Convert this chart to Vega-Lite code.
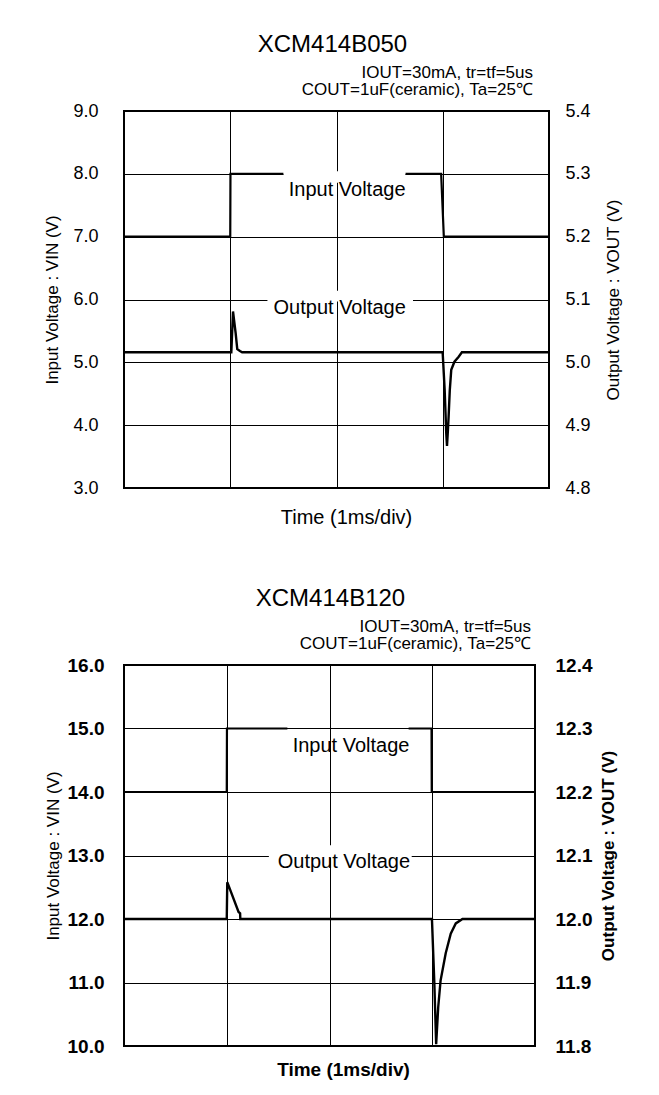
{
  "$schema": "https://vega.github.io/schema/vega-lite/v6.json",
  "padding": {"left": 42, "top": 33, "right": 0, "bottom": 0},
  "background": "white",
  "config": {
    "font": "Liberation Sans",
    "view": {"stroke": "black", "strokeWidth": 2},
    "axis": {"labelColor": "black", "titleColor": "black", "ticks": false, "domain": false, "gridColor": "black", "gridOpacity": 1, "gridWidth": 1, "titleFontWeight": "normal"},
    "title": {"color": "black", "subtitleColor": "black"}
  },
  "datasets": {
    "p1in": [
      {"t": 0, "v": 7, "s": "a"}, {"t": 1.0, "v": 7, "s": "a"}, {"t": 1.002, "v": 8, "s": "a"}, {"t": 1.5, "v": 8, "s": "a"},
      {"t": 2.65, "v": 8, "s": "b"}, {"t": 2.985, "v": 8, "s": "b"}, {"t": 3.01, "v": 7, "s": "b"}, {"t": 4, "v": 7, "s": "b"}
    ],
    "p1out": [
      {"t": 0, "v": 5.016}, {"t": 1.01, "v": 5.016}, {"t": 1.026, "v": 5.081}, {"t": 1.051, "v": 5.046}, {"t": 1.066, "v": 5.021},
      {"t": 1.091, "v": 5.018}, {"t": 1.112, "v": 5.016}, {"t": 2.999, "v": 5.016}, {"t": 3.018, "v": 4.956}, {"t": 3.033, "v": 4.887},
      {"t": 3.04, "v": 4.867}, {"t": 3.048, "v": 4.89}, {"t": 3.055, "v": 4.913}, {"t": 3.066, "v": 4.955}, {"t": 3.08, "v": 4.988},
      {"t": 3.11, "v": 5.001}, {"t": 3.15, "v": 5.009}, {"t": 3.18, "v": 5.016}, {"t": 4, "v": 5.016}
    ],
    "p1lab": [
      {"t": 2.1, "v": 7.74, "label": "Input Voltage"},
      {"t": 2.03, "v": 5.865, "label": "Output Voltage"}
    ],
    "p1box": [
      {"t": 1.5, "t2": 2.65, "v": 7.86, "v2": 8.04},
      {"t": 1.35, "t2": 2.72, "v": 5.97, "v2": 6.14}
    ],
    "p2in": [
      {"t": 0, "v": 14, "s": "a"}, {"t": 1.0, "v": 14, "s": "a"}, {"t": 1.002, "v": 15, "s": "a"}, {"t": 1.59, "v": 15, "s": "a"},
      {"t": 2.77, "v": 15, "s": "b"}, {"t": 2.993, "v": 15, "s": "b"}, {"t": 2.995, "v": 14, "s": "b"}, {"t": 4, "v": 14, "s": "b"}
    ],
    "p2out": [
      {"t": 0, "v": 12.0}, {"t": 1.0, "v": 12.0}, {"t": 1.005, "v": 12.058}, {"t": 1.115, "v": 12.011}, {"t": 1.13, "v": 12.009},
      {"t": 1.132, "v": 12.0}, {"t": 2.997, "v": 12.0}, {"t": 3.02, "v": 11.9}, {"t": 3.038, "v": 11.803}, {"t": 3.058, "v": 11.861},
      {"t": 3.081, "v": 11.903}, {"t": 3.131, "v": 11.946}, {"t": 3.18, "v": 11.977}, {"t": 3.229, "v": 11.993}, {"t": 3.294, "v": 12.0},
      {"t": 4, "v": 12.0}
    ],
    "p2lab": [
      {"t": 2.21, "v": 14.73, "label": "Input Voltage"},
      {"t": 2.14, "v": 12.89, "label": "Output Voltage"}
    ],
    "p2box": [
      {"t": 1.41, "t2": 2.8, "v": 12.96, "v2": 13.16}
    ]
  },
  "concat": [
    {
      "title": {"text": "XCM414B050", "fontSize": 24, "fontWeight": "normal", "anchor": "middle", "offset": 6},
      "vconcat": [
        {
          "title": {"text": ["IOUT=30mA, tr=tf=5us", "COUT=1uF(ceramic), Ta=25℃"], "anchor": "end", "frame": "group", "fontSize": 17, "fontWeight": "normal", "lineHeight": 17, "offset": 3, "dx": -16},
          "width": 425,
          "height": 377,
          "encoding": {
            "x": {"field": "t", "type": "quantitative", "scale": {"domain": [0, 4], "nice": false},
              "axis": {"values": [0, 1, 2, 3, 4], "labels": false, "grid": true, "title": "Time (1ms/div)", "titleFontSize": 20, "titlePadding": 19, "titleX": 222}}
          },
          "layer": [
            {
              "encoding": {
                "y": {"field": "v", "type": "quantitative", "scale": {"domain": [3, 9], "nice": false},
                  "axis": {"orient": "left", "values": [3, 4, 5, 6, 7, 8, 9], "format": ".1f", "grid": true, "labelFontSize": 18, "labelPadding": 26, "title": "Input Voltage : VIN (V)", "titleFontSize": 17, "titlePadding": 11}}
              },
              "layer": [
                {"data": {"name": "p1box"}, "mark": {"type": "rect", "fill": "white", "strokeWidth": 0}, "encoding": {"x2": {"field": "t2"}, "y2": {"field": "v2"}}},
                {"data": {"name": "p1in"}, "mark": {"type": "line", "color": "black", "strokeWidth": 2.2}, "encoding": {"detail": {"field": "s"}}},
                {"data": {"name": "p1lab"}, "mark": {"type": "text", "fontSize": 20, "color": "black", "align": "center", "baseline": "middle"}, "encoding": {"text": {"field": "label"}}}
              ]
            },
            {
              "data": {"name": "p1out"},
              "mark": {"type": "line", "color": "black", "strokeWidth": 2.4},
              "encoding": {
                "y": {"field": "v", "type": "quantitative", "scale": {"domain": [4.8, 5.4], "nice": false},
                  "axis": {"orient": "right", "values": [4.8, 4.9, 5.0, 5.1, 5.2, 5.3, 5.4], "format": ".1f", "grid": false, "labelFontSize": 18, "labelPadding": 16, "title": "Output Voltage : VOUT (V)", "titleFontSize": 17, "titleAngle": 270, "titleBaseline": "top", "titlePadding": 15}}
              }
            }
          ],
          "resolve": {"scale": {"y": "independent"}}
        }
      ]
    },
    {
      "title": {"text": "XCM414B120", "fontSize": 24, "fontWeight": "normal", "anchor": "middle", "offset": 6},
      "vconcat": [
        {
          "title": {"text": ["IOUT=30mA, tr=tf=5us", "COUT=1uF(ceramic), Ta=25℃"], "anchor": "end", "frame": "group", "fontSize": 17, "fontWeight": "normal", "lineHeight": 17, "offset": 3, "dx": -4},
          "width": 411,
          "height": 381,
          "encoding": {
            "x": {"field": "t", "type": "quantitative", "scale": {"domain": [0, 4], "nice": false},
              "axis": {"values": [0, 1, 2, 3, 4], "labels": false, "grid": true, "title": "Time (1ms/div)", "titleFontSize": 19, "titleFontWeight": "bold", "titlePadding": 14, "titleX": 219}}
          },
          "layer": [
            {
              "encoding": {
                "y": {"field": "v", "type": "quantitative", "scale": {"domain": [10, 16], "nice": false},
                  "axis": {"orient": "left", "values": [10, 11, 12, 13, 14, 15, 16], "format": ".1f", "grid": true, "labelFontSize": 19, "labelFontWeight": "bold", "labelPadding": 20, "title": "Input Voltage : VIN (V)", "titleFontSize": 17, "titlePadding": 5}}
              },
              "layer": [
                {"data": {"name": "p2box"}, "mark": {"type": "rect", "fill": "white", "strokeWidth": 0}, "encoding": {"x2": {"field": "t2"}, "y2": {"field": "v2"}}},
                {"data": {"name": "p2in"}, "mark": {"type": "line", "color": "black", "strokeWidth": 2.2}, "encoding": {"detail": {"field": "s"}}},
                {"data": {"name": "p2lab"}, "mark": {"type": "text", "fontSize": 20, "color": "black", "align": "center", "baseline": "middle"}, "encoding": {"text": {"field": "label"}}}
              ]
            },
            {
              "data": {"name": "p2out"},
              "mark": {"type": "line", "color": "black", "strokeWidth": 2.4},
              "encoding": {
                "y": {"field": "v", "type": "quantitative", "scale": {"domain": [11.8, 12.4], "nice": false},
                  "axis": {"orient": "right", "values": [11.8, 11.9, 12.0, 12.1, 12.2, 12.3, 12.4], "format": ".1f", "grid": false, "labelFontSize": 19, "labelFontWeight": "bold", "labelPadding": 20, "title": "Output Voltage : VOUT (V)", "titleFontSize": 17, "titleFontWeight": "bold", "titleAngle": 270, "titleBaseline": "top", "titlePadding": 9}}
              }
            }
          ],
          "resolve": {"scale": {"y": "independent"}}
        }
      ]
    }
  ],
  "columns": 1,
  "align": "none",
  "spacing": 59
}
